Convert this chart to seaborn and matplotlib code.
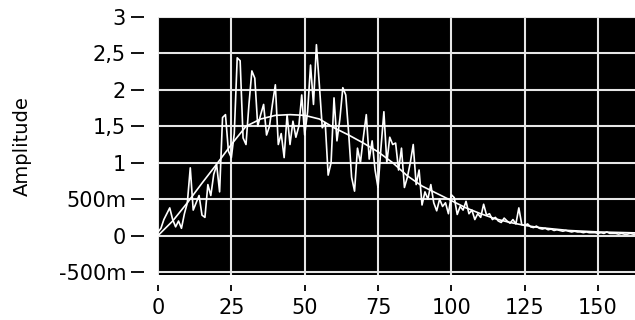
import numpy as np
import pandas as pd
import seaborn as sns
import matplotlib.pyplot as plt

# measured signal, one sample per x step (0..163)
amplitude = [
    0.05, 0.10, 0.22, 0.30, 0.38, 0.22, 0.12, 0.20, 0.10, 0.30,
    0.45, 0.93, 0.35, 0.45, 0.55, 0.28, 0.25, 0.70, 0.55, 0.84,
    0.97, 0.60, 1.62, 1.66, 1.16, 1.07, 1.40, 2.44, 2.40, 1.34,
    1.25, 1.80, 2.26, 2.16, 1.50, 1.66, 1.80, 1.38, 1.50, 1.80,
    2.07, 1.25, 1.40, 1.07, 1.66, 1.25, 1.57, 1.35, 1.50, 1.93,
    1.38, 1.70, 2.34, 1.80, 2.62, 2.07, 1.48, 1.55, 0.83, 1.00,
    1.89, 1.30, 1.60, 2.03, 1.93, 1.40, 0.80, 0.61, 1.20, 1.00,
    1.35, 1.66, 1.05, 1.30, 0.90, 0.66, 1.20, 1.70, 1.00, 1.35,
    1.25, 1.27, 0.90, 1.20, 0.66, 0.80, 1.00, 1.25, 0.70, 0.90,
    0.42, 0.60, 0.50, 0.70, 0.45, 0.34, 0.50, 0.40, 0.45, 0.30,
    0.56, 0.52, 0.29, 0.40, 0.35, 0.47, 0.30, 0.35, 0.22, 0.30,
    0.25, 0.43, 0.28, 0.30, 0.22, 0.25, 0.20, 0.18, 0.24, 0.20,
    0.17, 0.22, 0.16, 0.38, 0.15, 0.14, 0.16, 0.12, 0.11, 0.13,
    0.10, 0.09, 0.10, 0.08, 0.09, 0.07, 0.08, 0.07, 0.06, 0.07,
    0.06, 0.05, 0.06, 0.05, 0.05, 0.04, 0.05, 0.04, 0.04, 0.04,
    0.03, 0.04, 0.03, 0.05, 0.03, 0.03, 0.03, 0.02, 0.03, 0.02,
    0.02, 0.03, 0.02, 0.02,
]

# smooth fitted curve, sampled every 5 units
fit_x = [0, 5, 10, 15, 20, 25, 30, 35, 40, 45, 50, 55, 60, 65, 70, 75, 80,
         85, 90, 95, 100, 105, 110, 115, 120, 125, 130, 135, 140, 145, 150,
         155, 160, 165]
fit_y = [0.00, 0.20, 0.45, 0.72, 0.98, 1.25, 1.50, 1.60, 1.65, 1.66, 1.65,
         1.60, 1.48, 1.38, 1.27, 1.15, 1.00, 0.82, 0.68, 0.58, 0.48, 0.38,
         0.30, 0.23, 0.18, 0.14, 0.11, 0.09, 0.07, 0.06, 0.05, 0.045, 0.04,
         0.035]

x_ticks = [0, 25, 50, 75, 100, 125, 150]
y_ticks = [3, 2.5, 2, 1.5, 1, 0.5, 0, -0.5]
y_tick_labels = ['3', '2,5', '2', '1,5', '1', '500m', '0', '-500m']

sig = pd.DataFrame({'x': np.arange(len(amplitude)), 'y': amplitude})
fit = pd.DataFrame({'x': fit_x, 'y': fit_y})

plt.rcParams['font.family'] = ['DejaVu Sans']

fig = plt.figure(figsize=(6.35, 3.2), dpi=100)
ax = fig.add_axes([158 / 635, 45 / 320, 477 / 635, 258 / 320])
ax.set_facecolor('black')

sns.lineplot(data=fit, x='x', y='y', ax=ax, color='white', linewidth=1.2)
sns.lineplot(data=sig, x='x', y='y', ax=ax, color='white', linewidth=1.2)

ax.set_xlim(0, 162.6)
ax.set_ylim(-0.541, 3.0)
ax.set_xticks(x_ticks)
ax.set_xticklabels([str(t) for t in x_ticks])
ax.set_yticks(y_ticks)
ax.set_yticklabels(y_tick_labels)

ax.grid(True, color='#e6e6e6', linewidth=1.5)
ax.set_axisbelow(True)

for s in ['top', 'right']:
    ax.spines[s].set_visible(False)
ax.spines['left'].set_position(('outward', 10))
ax.spines['bottom'].set_position(('outward', 7))
ax.spines['left'].set_visible(False)
ax.spines['bottom'].set_visible(False)

ax.tick_params(axis='y', length=9.5, width=1.3, pad=3.5, labelsize=15, color='black')
ax.tick_params(axis='x', length=4.5, width=1.3, pad=5, labelsize=15, color='black')

ax.set_xlabel('')
ax.set_ylabel('Amplitude', fontsize=14)
ax.yaxis.set_label_coords(-0.264, 0.5)

fig.savefig('out.png', dpi=100, facecolor='white')
